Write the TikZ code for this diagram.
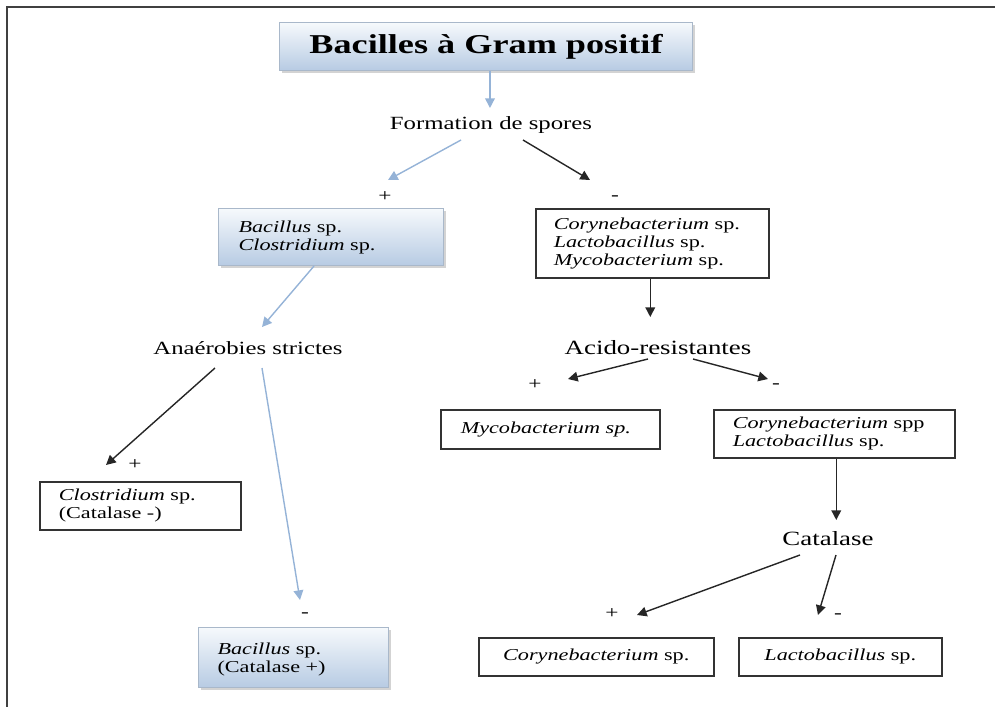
\documentclass[tikz,border=0pt]{standalone}
\usepackage{fontspec}
\setmainfont{Liberation Serif}[FakeStretch=1.33]
\usetikzlibrary{arrows.meta,shadows}
\definecolor{arrblue}{HTML}{95B3D7}
\definecolor{boxtop}{HTML}{F6F9FC}
\definecolor{boxbot}{HTML}{B7CBE3}
\definecolor{boxline}{HTML}{A9B8CA}
\begin{document}
\begin{tikzpicture}[x=0.02cm,y=-0.02cm,
  blk/.style={draw=black!80,line width=0.9pt,anchor=north west,align=left,inner ysep=0pt,
    font=\fontsize{9.5}{10.2}\selectfont},
  bbox/.style={draw=boxline,line width=0.6pt,top color=boxtop,bottom color=boxbot,
    drop shadow={shadow xshift=1.5pt,shadow yshift=-1.5pt,opacity=.35},
    anchor=north west,align=left,inner ysep=0pt,font=\fontsize{9.5}{10.2}\selectfont},
  lbl/.style={font=\fontsize{10.6}{12}\selectfont},
  big/.style={font=\fontsize{11.5}{13}\selectfont},
  sgn/.style={font=\fontsize{10}{12}\selectfont,inner sep=0pt},
  arr/.style={-{Triangle[length=5.5pt,width=5.5pt]},line width=0.8pt,black!85},
  barr/.style={-{Triangle[length=5.5pt,width=5.5pt]},line width=0.8pt,arrblue}]
\useasboundingbox (0,0) rectangle (995,707);
% cadre
\draw[line width=1.1pt,black!75] (7,707) -- (7,7) -- (995,7);

% boites
\node[bbox,text width=7.46cm,inner xsep=0.4cm,minimum height=0.96cm,align=center,
  font=\fontsize{15.5}{18}\selectfont\bfseries] (titre) at (279,22) {Bacilles à Gram positif};
\node[bbox,text width=3.7cm,inner xsep=0.4cm,minimum height=1.14cm] (bc) at (218,208)
  {\textit{Bacillus} sp.\\\textit{Clostridium} sp.};
\node[blk,text width=3.94cm,inner xsep=0.36cm,minimum height=1.38cm] (clm) at (535,208)
  {\textit{Corynebacterium} sp.\\\textit{Lactobacillus} sp.\\\textit{Mycobacterium} sp.};
\node[blk,text width=3.58cm,inner xsep=0.4cm,minimum height=0.78cm] (myco) at (440,409)
  {\textit{Mycobacterium sp.}};
\node[blk,text width=4.06cm,inner xsep=0.38cm,minimum height=0.96cm] (cl) at (713,409)
  {\textit{Corynebacterium} spp\\\textit{Lactobacillus} sp.};
\node[blk,text width=3.26cm,inner xsep=0.38cm,minimum height=0.96cm] (clos) at (39,481)
  {\textit{Clostridium} sp.\\(Catalase -)};
\node[bbox,text width=3.04cm,inner xsep=0.38cm,minimum height=1.2cm,text depth=0.36cm] (bac) at (198,627)
  {\textit{Bacillus} sp.\\(Catalase +)};
\node[blk,text width=4.1cm,inner xsep=0.3cm,minimum height=0.76cm,align=center] (cory) at (478,637)
  {\textit{Corynebacterium} sp.};
\node[blk,text width=3.46cm,inner xsep=0.3cm,minimum height=0.76cm,align=center] (lacto) at (738,637)
  {\textit{Lactobacillus} sp.};

% tests
\node[lbl] (form) at (491,125) {Formation de spores};
\node[lbl] (anae) at (248,348) {Anaérobies strictes};
\node[big] (acido) at (658,348) {Acido-resistantes};
\node[big] (cat) at (828,539) {Catalase};

% signes
\node[sgn] (p1) at (385,197) {+};
\node[sgn] (m1) at (615,198) {-};
\node[sgn] (p2) at (535,385) {+};
\node[sgn] (m2) at (776,386) {-};
\node[sgn] (p3) at (135,465) {+};
\node[sgn] (m3) at (305,615) {-};
\node[sgn] (p4) at (612,614) {+};
\node[sgn] (m4) at (838,616) {-};

% fleches
\draw[barr] ([shift={(4,0)}]titre.south) -- ([shift={(4,-17)}]titre.south |- form.center);
\draw[barr] ([shift={(-30,15)}]form.center) -- ([shift={(3,-17)}]p1.center);
\draw[arr] ([shift={(32,15)}]form.center) -- ([shift={(-25,-18)}]m1.center);
\draw[barr] ([shift={(-17,0)}]bc.south) -- ([shift={(14,-21)}]anae.center);
\draw[arr] ([shift={(-2,0)}]clm.south) -- ([shift={(-2,-31)}]clm.south |- acido.center);
\draw[arr] ([shift={(-10,11)}]acido.center) -- ([shift={(33,-6)}]p2.center);
\draw[arr] ([shift={(35,11)}]acido.center) -- ([shift={(-8,-7)}]m2.center);
\draw[arr] ([shift={(-33,20)}]anae.center) -- ([shift={(-29,0)}]p3.center);
\draw[barr] ([shift={(14,20)}]anae.center) -- ([shift={(-5,-15)}]m3.center);
\draw[arr] ([shift={(2,0)}]cl.south) -- ([shift={(2,-19)}]cl.south |- cat.center);
\draw[arr] ([shift={(-28,16)}]cat.center) -- ([shift={(25,1)}]p4.center);
\draw[arr] ([shift={(8,16)}]cat.center) -- ([shift={(-20,-1)}]m4.center);
\end{tikzpicture}
\end{document}
